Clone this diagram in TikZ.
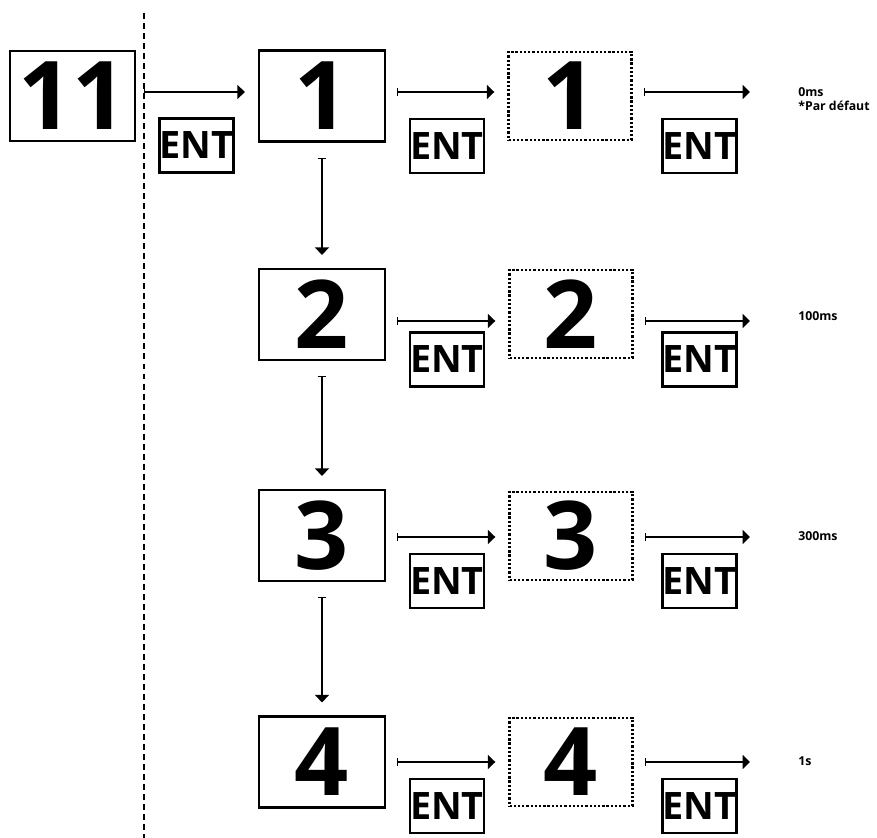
\documentclass[tikz,border=0pt]{standalone}
\usepackage{fontspec}
\setmainfont{Open Sans}
\usetikzlibrary{arrows.meta,positioning,calc}

\begin{document}
\begin{tikzpicture}[x=0.02cm,y=-0.02cm,
 box/.style={draw,line width=1.3pt,inner sep=0pt,minimum width=2.52cm,minimum height=1.82cm,font=\fontsize{54}{54}\selectfont\bfseries},
 dbox/.style={box,line width=1.4pt,dash pattern=on 1.3pt off 1.1pt,minimum width=2.46cm,minimum height=1.76cm},
 ent/.style={draw,line width=1.2pt,inner sep=0pt,minimum width=1.48cm,minimum height=1.08cm,font=\fontsize{21.5}{21.5}\selectfont\bfseries},
 lbl/.style={anchor=west,align=left,inner sep=0pt,font=\fontsize{7}{7}\selectfont\bfseries},
 arr/.style={{Bar[width=5pt]}-{Triangle[length=4.2pt,width=8pt]},line width=0.6pt,shorten <=6.3pt,shorten >=7.4pt},
 varr/.style={arr,shorten <=8.5pt}]
\useasboundingbox (0,0) rectangle (877,838);
% start screen and separator
\node[box,minimum width=2.5cm,minimum height=1.8cm] (p11) at (72.5,96) {11};
\coordinate (dtop) at (144,13); \coordinate (dbot) at (144,838);
\draw[line width=1.6pt,dash pattern=on 3.4pt off 2.3pt] (dtop)--(dbot);
% arrow rows
\coordinate (r1) at (0,92); \coordinate (r2) at (0,321);
\coordinate (r3) at (0,537); \coordinate (r4) at (0,762);
% choices
\node[box] (s1) at (322,96) {1};    \node[dbox] (d1) at (570,96) {1};
\node[box] (s2) at (322,314.5) {2}; \node[dbox] (d2) at (571,314) {2};
\node[box] (s3) at (322,535.5) {3}; \node[dbox] (d3) at (571,536) {3};
\node[box] (s4) at (322,762) {4};   \node[dbox] (d4) at (571,762) {4};
\node[ent] (e0) at (196.5,145.5) {ENT};
\node[ent] (e1a) at (447,146) {ENT};   \node[ent] (e1b) at (699.5,146) {ENT};
\node[ent] (e2a) at (447,359.5) {ENT}; \node[ent] (e2b) at (699.5,359.5) {ENT};
\node[ent] (e3a) at (447,581) {ENT};   \node[ent] (e3b) at (699.5,581) {ENT};
\node[ent] (e4a) at (447,806) {ENT};   \node[ent] (e4b) at (699.5,806) {ENT};
% values
\node[lbl,anchor=north west] (t1) at (798,87) {0ms\\[1pt]*Par défaut};
\node[lbl] (t2) at (798,316) {100ms};
\node[lbl] (t3) at (798,536) {300ms};
\node[lbl] (t4) at (798,761) {1s};
\coordinate (o1) at (763,92); \coordinate (o2) at (763,321);
\coordinate (o3) at (763,537); \coordinate (o4) at (763,762);
% connectors
\draw[arr,shorten <=0pt](dtop |- r1)--(s1.west |- r1);
\draw[arr](s1.east |- r1)--(d1.west |- r1);\draw[arr](d1.east |- r1)--(o1);
\draw[arr](s2.east |- r2)--(d2.west |- r2);\draw[arr](d2.east |- r2)--(o2);
\draw[arr](s3.east |- r3)--(d3.west |- r3);\draw[arr](d3.east |- r3)--(o3);
\draw[arr](s4.east |- r4)--(d4.west |- r4);\draw[arr](d4.east |- r4)--(o4);
\draw[varr](s1)--(s2);\draw[varr](s2)--(s3);\draw[varr](s3)--(s4);
\end{tikzpicture}
\end{document}
